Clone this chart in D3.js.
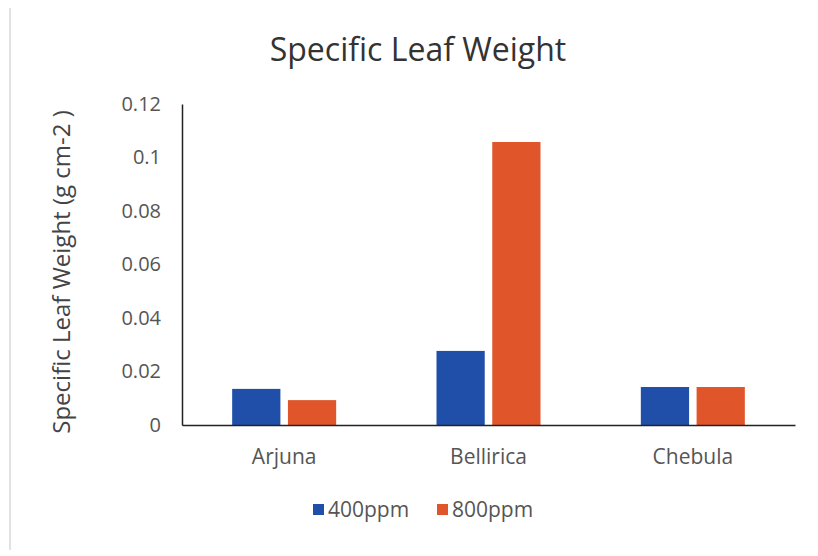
<!DOCTYPE html>
<html>
<head>
<meta charset="utf-8">
<script src="https://cdn.jsdelivr.net/npm/d3@7"></script>
<style>
  body { margin: 0; background: #fff; }
  text { font-family: "Open Sans", "DejaVu Sans", sans-serif; }
</style>
</head>
<body>
<svg id="chart" width="818" height="556"></svg>
<script>
// data
var categories = ["Arjuna", "Bellirica", "Chebula"];
var seriesNames = ["400ppm", "800ppm"];
var values400 = [0.0135, 0.0277, 0.0142];
var values800 = [0.0093, 0.1058, 0.0142];
var yTicks = [0, 0.02, 0.04, 0.06, 0.08, 0.1, 0.12];
var colors = ["#1f4fa8", "#e0552a"];

var svg = d3.select("#chart");

// faint page border on the left
svg.append("line")
   .attr("x1", 10).attr("x2", 10)
   .attr("y1", 8).attr("y2", 550)
   .attr("stroke", "#e2e2e2")
   .attr("stroke-width", 2);

var x = d3.scaleBand()
   .domain(categories)
   .range([182, 795]);

var x1 = d3.scaleBand()
   .domain(seriesNames)
   .range([0, 104])
   .paddingInner(0.135);

var y = d3.scaleLinear()
   .domain([0, 0.12])
   .range([425, 104]);

// bars
var series = [values400, values800];
var groups = svg.selectAll("g.cat")
   .data(categories)
   .enter().append("g")
   .attr("class", "cat")
   .attr("transform", function(d) { return "translate(" + (x(d) + (x.bandwidth() - 104) / 2) + ",0)"; });

groups.selectAll("rect")
   .data(function(d, i) { return seriesNames.map(function(s, j) { return {s: s, v: series[j][i], j: j}; }); })
   .enter().append("rect")
   .attr("x", function(d) { return x1(d.s); })
   .attr("width", x1.bandwidth())
   .attr("y", function(d) { return y(d.v); })
   .attr("height", function(d) { return y(0) - y(d.v); })
   .attr("fill", function(d) { return colors[d.j]; });

// y axis
var yAxis = svg.append("g")
   .attr("transform", "translate(182,0)")
   .call(d3.axisLeft(y).tickValues(yTicks).tickSize(0).tickPadding(21)
     .tickFormat(function(d) { return d === 0 ? "0" : String(+d.toFixed(2)); }));
yAxis.select(".domain").attr("stroke", "#222").attr("stroke-width", 1.5);
yAxis.selectAll("text").attr("font-size", 20).attr("fill", "#555")
   .style("font-family", "'Open Sans', sans-serif");

// x axis
var xAxis = svg.append("g")
   .attr("transform", "translate(0,425)")
   .call(d3.axisBottom(x).tickSize(0).tickPadding(24));
xAxis.select(".domain").attr("stroke", "#222").attr("stroke-width", 1.5);
xAxis.selectAll("text").attr("font-size", 21).attr("fill", "#555")
   .style("font-family", "'Open Sans', sans-serif");

// title
svg.append("text")
   .attr("x", 418)
   .attr("y", 61)
   .attr("text-anchor", "middle")
   .attr("font-size", 32)
   .attr("fill", "#333")
   .text("Specific Leaf Weight");

// y axis title
svg.append("text")
   .attr("transform", "translate(70,272) rotate(-90)")
   .attr("text-anchor", "middle")
   .attr("font-size", 24)
   .attr("fill", "#444")
   .text("Specific Leaf Weight (g cm-2 )");

// legend
var legendX = [313, 437];
var legend = svg.selectAll("g.legend")
   .data(seriesNames)
   .enter().append("g")
   .attr("class", "legend")
   .attr("transform", function(d, i) { return "translate(" + legendX[i] + ",504)"; });
legend.append("rect")
   .attr("width", 11).attr("height", 11)
   .attr("fill", function(d, i) { return colors[i]; });
legend.append("text")
   .attr("x", 15)
   .attr("y", 13)
   .attr("font-size", 21)
   .attr("fill", "#555")
   .text(function(d) { return d; });
</script>
</body>
</html>
